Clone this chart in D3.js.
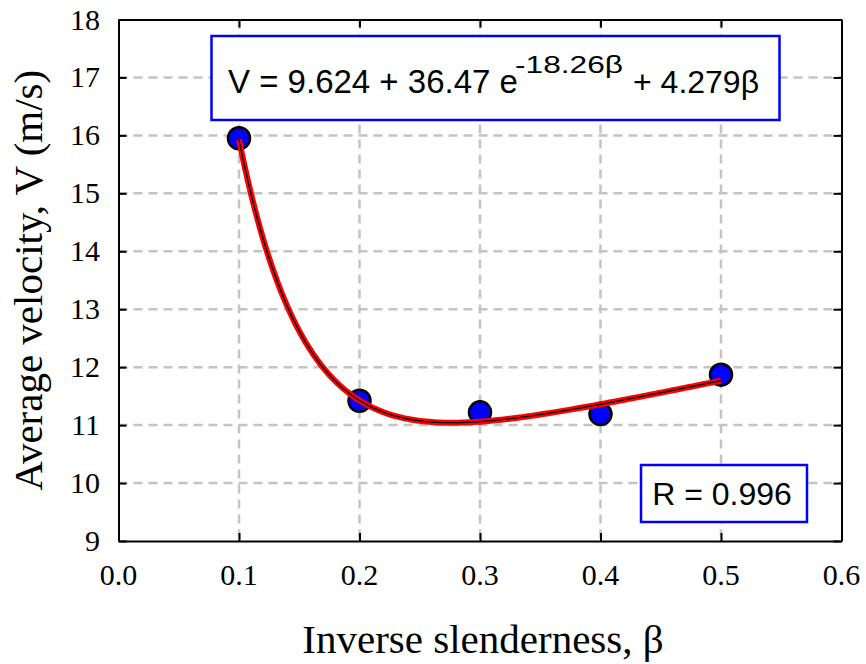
<!DOCTYPE html>
<html><head><meta charset="utf-8">
<script src="https://cdn.jsdelivr.net/npm/d3@7"></script>
<style>body{margin:0;background:#fff}</style>
</head><body>
<svg id="c" width="866" height="664"></svg>
<script>
// data
const betaValues = [0.1, 0.2, 0.3, 0.4, 0.5];
const velocityValues = [15.95, 11.42, 11.22, 11.19, 11.87];
const fitCoefs = [9.624, 36.47, -18.26, 4.279]; // V = a + b e^{c β} + d β
const xTicks = [0.0, 0.1, 0.2, 0.3, 0.4, 0.5, 0.6];
const yTicks = [9, 10, 11, 12, 13, 14, 15, 16, 17, 18];

const SERIF = "'Liberation Serif', 'Times New Roman', serif";
const SANS = "'Liberation Sans', Arial, sans-serif";
const svg = d3.select("#c");
const L = 118.5, R = 841.5, T = 19.5, B = 541;
const x = d3.scaleLinear().domain([0, 0.6]).range([L, R]);
const y = d3.scaleLinear().domain([9, 18]).range([B, T]);

// grid
const g = svg.append("g");
g.selectAll(".gx").data(xTicks.slice(1, -1)).enter().append("line")
  .attr("x1", d => x(d)).attr("x2", d => x(d)).attr("y1", T).attr("y2", B)
  .attr("stroke", "#c4c4c4").attr("stroke-width", 2.5).attr("stroke-dasharray", "9,6");
g.selectAll(".gy").data(yTicks.slice(1, -1)).enter().append("line")
  .attr("y1", d => y(d)).attr("y2", d => y(d)).attr("x1", L).attr("x2", R)
  .attr("stroke", "#c4c4c4").attr("stroke-width", 2.5).attr("stroke-dasharray", "9,6");

// axes (ticks + frame)
const ax = svg.append("g").attr("transform", `translate(0,${B})`)
  .call(d3.axisBottom(x).tickValues(xTicks).tickFormat("").tickSizeInner(-8).tickSizeOuter(0));
const axT = svg.append("g").attr("transform", `translate(0,${T})`)
  .call(d3.axisTop(x).tickValues(xTicks).tickFormat("").tickSizeInner(-8).tickSizeOuter(0));
const ay = svg.append("g").attr("transform", `translate(${L},0)`)
  .call(d3.axisLeft(y).tickValues(yTicks).tickFormat("").tickSizeInner(-8).tickSizeOuter(0));
const ayR = svg.append("g").attr("transform", `translate(${R},0)`)
  .call(d3.axisRight(y).tickValues(yTicks).tickFormat("").tickSizeInner(-8).tickSizeOuter(0));
[ax, axT, ay, ayR].forEach(a => {
  a.selectAll("path").attr("stroke", "#000").attr("stroke-width", 2);
  a.selectAll("line").attr("stroke", "#000").attr("stroke-width", 2);
});

// tick labels
const fmt = d3.format(".1f");
svg.append("g").selectAll("text").data(xTicks).enter().append("text")
  .attr("x", d => x(d)).attr("y", 585).attr("text-anchor", "middle")
  .style("font-family", SERIF).style("font-size", "30px").attr("fill", "#000")
  .text(d => fmt(d));
svg.append("g").selectAll("text").data(yTicks).enter().append("text")
  .attr("x", 100).attr("y", d => y(d) + 10).attr("text-anchor", "end")
  .style("font-family", SERIF).style("font-size", "30px").attr("fill", "#000")
  .text(d => d);

// fit curve
const [a, b, c, dd] = fitCoefs;
const fitX = d3.range(0.1, 0.50001, 0.0025);
const fitPts = fitX.map(t => [t, a + b * Math.exp(c * t) + dd * t]);
const line = d3.line().x(p => x(p[0])).y(p => y(p[1]));

// points
svg.selectAll(".pt").data(betaValues).enter().append("circle")
  .attr("cx", d => x(d)).attr("cy", (d, i) => y(velocityValues[i])).attr("r", 11)
  .attr("fill", "#0000ff").attr("stroke", "#000").attr("stroke-width", 2.5);
// curve on top of markers (as in reference)
svg.append("path").datum(fitPts).attr("d", line).attr("fill", "none")
  .attr("stroke", "#ff0000").attr("stroke-width", 6).attr("stroke-linejoin", "round");
svg.append("path").datum(fitPts).attr("d", line).attr("fill", "none")
  .attr("stroke", "#000").attr("stroke-width", 1.3).attr("stroke-linejoin", "round");

// equation box
svg.append("rect").attr("x", 211.5).attr("y", 36).attr("width", 568).attr("height", 84)
  .attr("fill", "#fff").attr("stroke", "#0000ff").attr("stroke-width", 2.5);
const eq = svg.append("text").style("font-family", SANS).attr("fill", "#000");
eq.append("tspan").attr("x", 228).attr("y", 93).style("font-size", "33px").text(`V = ${a} + ${b} e`);
eq.append("tspan").attr("x", 515).attr("y", 73).style("font-size", "24px")
  .attr("textLength", 108).attr("lengthAdjust", "spacingAndGlyphs").text(`${c}β`);
eq.append("tspan").attr("x", 633).attr("y", 93).style("font-size", "32px").text(`+ ${dd}β`);

// R box
svg.append("rect").attr("x", 641).attr("y", 465).attr("width", 166).attr("height", 57)
  .attr("fill", "#fff").attr("stroke", "#0000ff").attr("stroke-width", 2.5);
svg.append("text").attr("x", 722).attr("y", 505).attr("text-anchor", "middle")
  .style("font-family", SANS).style("font-size", "32px").attr("fill", "#000")
  .text("R = 0.996");

// axis titles
svg.append("text").attr("x", 483).attr("y", 653).attr("text-anchor", "middle")
  .style("font-family", SERIF).style("font-size", "41px")
  .text("Inverse slenderness, β");
svg.append("text").attr("transform", `translate(42,${(T + B) / 2}) rotate(-90)`).attr("text-anchor", "middle")
  .style("font-family", SERIF).style("font-size", "41px")
  .text("Average velocity, V (m/s)");
</script>
</body></html>
